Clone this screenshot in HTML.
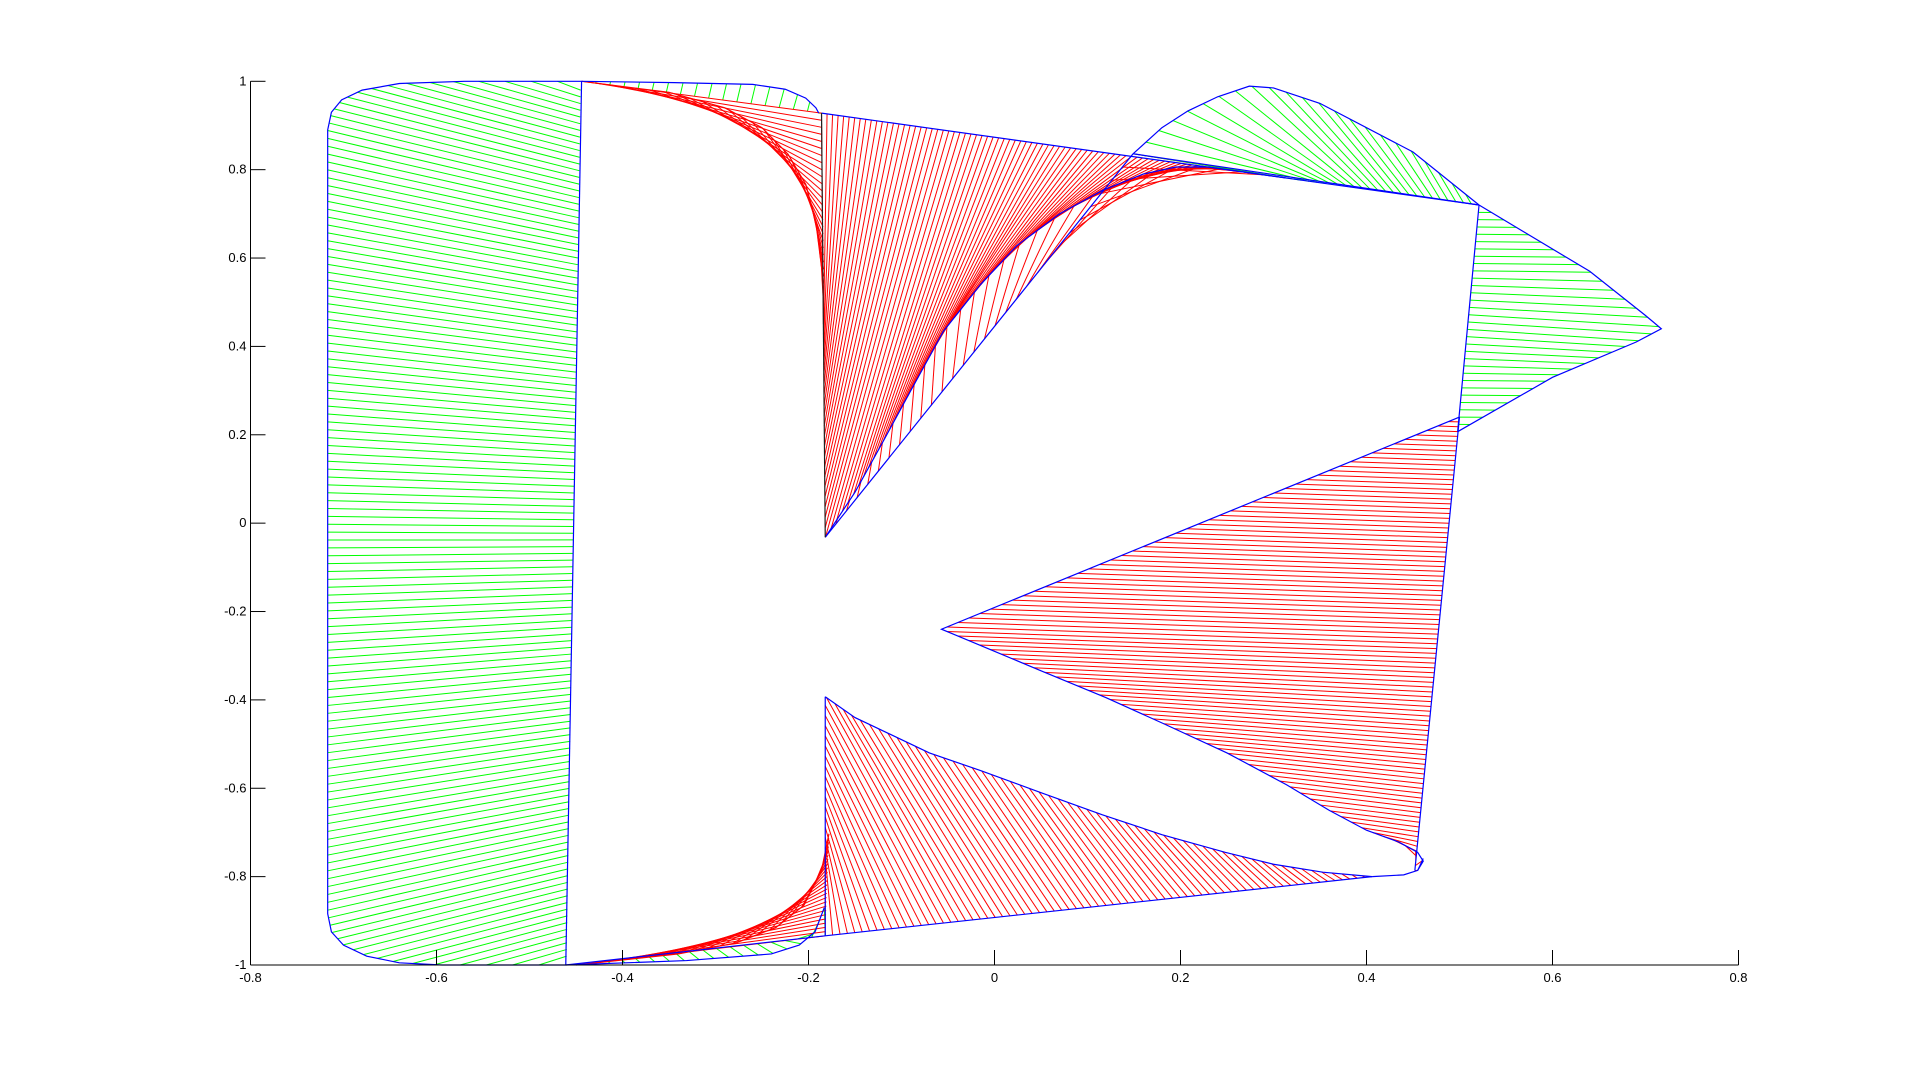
<!DOCTYPE html>
<html><head><meta charset="utf-8"><style>
html,body{margin:0;padding:0;background:#fff;}
svg{display:block;}
text{font-family:"Liberation Sans",sans-serif;font-size:13px;fill:#000;}
</style></head><body>
<svg id="chart" width="1920" height="1084" xmlns="http://www.w3.org/2000/svg">
<g id="marks"></g>
<g id="axes"></g>
</svg>
<script>
// tick values
const xTicks = [-0.8,-0.6,-0.4,-0.2,0,0.2,0.4,0.6,0.8];
const yTicks = [-1,-0.8,-0.6,-0.4,-0.2,0,0.2,0.4,0.6,0.8,1];
const xTickLabels = ["-0.8","-0.6","-0.4","-0.2","0","0.2","0.4","0.6","0.8"];
const yTickLabels = ["-1","-0.8","-0.6","-0.4","-0.2","0","0.2","0.4","0.6","0.8","1"];

// curves (data coordinates)
const leftOuter = [[-0.47,1.0],[-0.570,1.0],[-0.640,0.995],[-0.680,0.980],[-0.702,0.958],[-0.713,0.930],[-0.717,0.890],[-0.717,-0.884],[-0.713,-0.925],[-0.700,-0.955],[-0.675,-0.980],[-0.640,-0.995],[-0.594,-1.0],[-0.49,-1.0]];
const leftOutline = [[-0.444,1.0],[-0.570,1.0],[-0.640,0.995],[-0.680,0.980],[-0.702,0.958],[-0.713,0.930],[-0.717,0.890],[-0.717,-0.884],[-0.713,-0.925],[-0.700,-0.955],[-0.675,-0.980],[-0.640,-0.995],[-0.594,-1.0],[-0.461,-1.0]];
const leftInner = [[-0.445,0.98],[-0.460,-0.98]];
const leftRightEdge = [[-0.444,1.0],[-0.461,-1.0]];
const topCapOuter = [[-0.444,1.0],[-0.344,0.997],[-0.260,0.993],[-0.225,0.982],[-0.203,0.962],[-0.192,0.940],[-0.189,0.928]];
const topCapInner = [[-0.444,1.0],[-0.186,0.928]];
const concaveTop = [[-0.444,1.0],[-0.350,0.975],[-0.290,0.940],[-0.250,0.895],[-0.222,0.835],[-0.203,0.767],[-0.192,0.680],[-0.186,0.580],[-0.183,0.462]];
const verticalTop = [[-0.186,0.928],[-0.183,0.462]];
const topEdge = [[-0.186,0.928],[0.314,0.781]];
const sChain = [[-0.184,0.45],[-0.182,-0.032],[-0.150,0.070],[-0.120,0.184],[-0.090,0.300],[-0.055,0.434],[-0.015,0.540],[0.024,0.628],[0.070,0.700],[0.116,0.753],[0.160,0.790],[0.195,0.806],[0.230,0.806],[0.261,0.797],[0.314,0.781]];
const sCurve = sChain.slice(1);
const apexLine = [[-0.182,-0.032],[0.149,0.836]];
const lobeTop = [[0.149,0.836],[0.180,0.895],[0.208,0.933],[0.240,0.965],[0.274,0.989],[0.300,0.985],[0.350,0.950],[0.450,0.840],[0.521,0.720]];
const lobeBottomFan = [[0.330,0.776],[0.521,0.720]];
const lobeBottom = [[0.149,0.836],[0.521,0.720]];
const rightOuter = [[0.521,0.720],[0.640,0.570],[0.700,0.470],[0.717,0.440],[0.690,0.410],[0.600,0.330],[0.498,0.207]];
const rightInner = [[0.521,0.720],[0.498,0.207]];
const bigLeft = [[0.500,0.240],[-0.057,-0.240],[0.000,-0.290],[0.051,-0.335],[0.120,-0.395],[0.182,-0.454],[0.250,-0.520],[0.314,-0.592],[0.360,-0.650],[0.400,-0.695],[0.435,-0.722],[0.455,-0.745],[0.461,-0.765],[0.455,-0.786]];
const bigRight = [[0.500,0.240],[0.452,-0.786]];
const botEdge = [[-0.182,-0.934],[0.406,-0.800]];
const botChain = [[-0.182,-0.78],[-0.182,-0.393],[-0.150,-0.440],[-0.120,-0.470],[-0.070,-0.520],[-0.015,-0.560],[0.050,-0.610],[0.116,-0.660],[0.180,-0.705],[0.248,-0.745],[0.300,-0.772],[0.353,-0.790],[0.406,-0.800]];
const botCurve = botChain.slice(1);
const botCapOuter = [[-0.461,-1.0],[-0.331,-0.990],[-0.240,-0.975],[-0.210,-0.955],[-0.193,-0.925],[-0.183,-0.870]];
const botCapInner = [[-0.461,-1.0],[-0.182,-0.934]];
const concaveBot = [[-0.450,-1.0],[-0.340,-0.975],[-0.278,-0.950],[-0.235,-0.915],[-0.205,-0.865],[-0.186,-0.786],[-0.178,-0.703]];
const verticalBot = [[-0.182,-0.934],[-0.178,-0.703]];
const tailBlob = [[0.406,-0.800],[0.440,-0.796],[0.455,-0.786],[0.461,-0.759]];

const X0=250.5, X1=1738.5, Y0=965, Y1=81.3;
function sx(v){return X0+(v+0.8)/1.6*(X1-X0);}
function sy(v){return Y0-(v+1)/2*(Y0-Y1);}
const NS='http://www.w3.org/2000/svg';
const marks=document.getElementById('marks');
const axes=document.getElementById('axes');

function resample(pts,n,hw){
  hw = hw===undefined?1:hw;
  const px=pts.map(p=>[sx(p[0]),sy(p[1])]);
  const L=[0];
  for(let i=1;i<px.length;i++){
    const dx=px[i][0]-px[i-1][0],dy=px[i][1]-px[i-1][1];
    L.push(L[i-1]+(hw===1?Math.hypot(dx,dy):Math.abs(dy)+hw*Math.abs(dx)));
  }
  const tot=L[L.length-1],out=[];
  for(let k=0;k<n;k++){
    const d=tot*k/(n-1);let i=1;
    while(i<L.length-1&&L[i]<d)i++;
    const f=(d-L[i-1])/((L[i]-L[i-1])||1);
    out.push([px[i-1][0]+f*(px[i][0]-px[i-1][0]),px[i-1][1]+f*(px[i][1]-px[i-1][1])]);
  }
  return out;
}
function hatch(a,b,n,color,name,hw){
  const A=resample(a,n,hw),B=resample(b,n);
  const g=document.createElementNS(NS,'g');
  
  
  for(let k=0;k<n;k++){
    const l=document.createElementNS(NS,'line');
    l.setAttribute('x1',A[k][0]);l.setAttribute('y1',A[k][1]);
    l.setAttribute('x2',B[k][0]);l.setAttribute('y2',B[k][1]);
    l.setAttribute('stroke',color);l.setAttribute('stroke-width','1');
    
    
    g.appendChild(l);
  }
  marks.appendChild(g);
}
function curve(pts,color,name){
  const p=document.createElementNS(NS,'polyline');
  p.setAttribute('points',pts.map(q=>sx(q[0])+','+sy(q[1])).join(' '));
  p.setAttribute('fill','none');p.setAttribute('stroke',color);p.setAttribute('stroke-width','1.2');
  
  
  marks.appendChild(p);
}
const G='#00ff00',R='#ff0000',B='#0000ff';
hatch(leftOuter,leftInner,130,G,'left-green-hatch',0.3);
hatch(topCapOuter,topCapInner,18,G,'top-cap-hatch');
hatch(concaveTop,verticalTop,30,R,'top-concave-hatch');
hatch(topEdge,sChain,85,R,'top-red-hatch');
hatch(apexLine,sCurve,30,R,'apex-red-hatch');
hatch(lobeTop,lobeBottomFan,24,G,'top-lobe-hatch');
hatch(rightOuter,rightInner,32,G,'right-green-hatch');
hatch(bigLeft,bigRight,95,R,'big-red-hatch');
hatch(botChain,botEdge,75,R,'bottom-red-hatch');
hatch(botCapOuter,botCapInner,20,G,'bottom-cap-hatch');
hatch(concaveBot,verticalBot,25,R,'bottom-concave-hatch');
curve(concaveTop,R,'top-concave-curve');
curve(concaveBot,R,'bottom-concave-curve');
[leftOutline,leftRightEdge,topCapOuter,topEdge,sCurve,apexLine,lobeTop,lobeBottom,rightOuter,rightInner,bigLeft,bigRight,botEdge,botCurve,botCapOuter,botCapInner,tailBlob,[[0.314,0.781],[0.521,0.720]]].forEach((c,i)=>curve(c,B,'outline-'+i));
curve([[-0.186,0.928],[-0.182,-0.032]],'#202020','top-vertical-edge');
curve([[-0.182,-0.393],[-0.182,-0.934]],B,'bottom-vertical-edge');

function mk(tag,attrs,name,txt){
  const e=document.createElementNS(NS,tag);
  for(const k in attrs)e.setAttribute(k,attrs[k]);
  
  
  if(txt!==undefined)e.textContent=txt;
  axes.appendChild(e);return e;
}
mk('line',{x1:X0,y1:Y0,x2:X1,y2:Y0,stroke:'#000','stroke-width':1},'x-axis-line');
mk('line',{x1:X0,y1:Y0,x2:X0,y2:Y1,stroke:'#000','stroke-width':1},'y-axis-line');
xTicks.forEach((v,i)=>{
  mk('line',{x1:sx(v),y1:Y0,x2:sx(v),y2:Y0-15,stroke:'#000'},'x-tick');
  mk('text',{x:sx(v),y:Y0+17,'text-anchor':'middle'},'x-tick-label',xTickLabels[i]);
});
yTicks.forEach((v,i)=>{
  mk('line',{x1:X0,y1:sy(v),x2:X0+15,y2:sy(v),stroke:'#000'},'y-tick');
  mk('text',{x:X0-4,y:sy(v)+4,'text-anchor':'end'},'y-tick-label',yTickLabels[i]);
});
</script>
</body></html>
